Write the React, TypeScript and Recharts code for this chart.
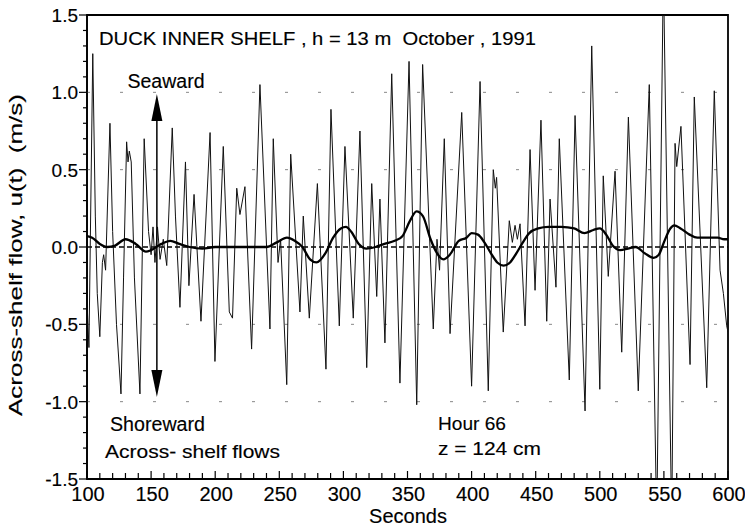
import { LineChart, Line, XAxis, YAxis, ReferenceLine, ReferenceArea } from "recharts";

// raw across-shelf velocity, read peak by peak off the figure
const rawSeconds = [
  100, 101.5, 104.5, 106.5, 108, 110, 112, 113, 114.5, 117.9, 120, 123, 126.5, 128.5, 130.9, 132, 133, 134.5,
  137, 141.3, 144.6, 148, 150, 151.5, 153, 155, 157, 159.5, 162.2, 166.5, 169, 172.5, 176.8, 179.5, 183.5,
  188.9, 196, 199.8, 206.3, 211, 213.5, 216.8, 219.3, 223.2, 228.4, 234.9, 242.7, 245.3, 249, 251, 255.8,
  258.9, 266.1, 268.7, 273.4, 279.7, 286.4, 290.3, 296.8, 301.2, 307.7, 312.9, 318.2, 322.1, 326, 328.5,
  332.4, 337.7, 344.1, 351.2, 357.2, 361.8, 370.1, 373, 375, 378.7, 383.2, 392.3, 400, 406.6, 413, 416.9,
  418.5, 419.5, 424.7, 429.4, 431.8, 433.9, 435.7, 437.8, 441.7, 445.6, 449.5, 454.1, 458.6, 461.2, 465.8,
  468.4, 476.2, 480.7, 488.5, 493.7, 500, 502.7, 506.6, 511.9, 517.1, 522.3, 530, 538.6, 544.4, 549.6,
  556.1, 558.7, 560, 563.3, 570.4, 573.7, 583.4, 589.3, 593.8, 596.4, 599, 600,
];
const rawFlow = [
  -0.35, -0.65, 1.25, 0.2, -0.3, -0.58, -0.1, -0.05, -0.15, 0.8, 0.1, -0.5, -0.95, -0.2, 0.68, 0.55, 0.62, 0.55,
  -0.2, -0.95, 0.7, 0.1, -0.05, 0.13, -0.1, 0.13, -0.08, 0.05, -0.12, 0.77, 0.2, -0.39, 0.55, -0.25, 0.34,
  -0.48, 0.74, -0.74, 0.65, -0.42, -0.46, 0.38, 0.21, 0.39, -0.66, 1.05, -0.53, 0.7, -0.1, 0.05, -0.89,
  0.6, -0.42, 0.2, -0.46, 0.41, -0.79, 0.89, -0.51, 0.65, -0.46, 0.75, -0.78, 0.41, -0.32, 0.31,
  -0.62, 1.12, -0.88, 1.2, -1.02, 1.18, -0.53, 0.05, -0.15, 0.7, -0.56, 0.87, -0.9, 1.07, -0.93, 0.5,
  0.38, 0.45, -0.55, 0.17, 0.03, 0.14, 0.05, 0.15, -0.51, 0.63, -0.28, 0.82, -0.48, 0.31, -0.26,
  0.7, -0.86, 0.85, -1.06, 1.3, -0.92, 0.46, -0.19, 0.49, -0.68, 0.84, -0.93, 1.05, -1.8, 1.8,
  -1.8, 0.67, 0.52, 0.78, -0.76, 0.97, -0.91, 1.01, -0.15, -0.3, -0.51, -0.55,
];

// low-passed (mean) flow
const smoothSeconds = [
  100, 104, 110, 116, 122, 130, 138, 146, 150, 158, 165, 172, 180, 190, 200, 210, 220, 230, 240, 248, 256,
  262, 268, 274, 279, 286, 292, 298, 302, 306, 312, 318, 325, 332, 340, 346, 352, 357, 362, 368, 373, 378,
  383, 390, 396, 400, 405, 410, 415, 420, 425, 430, 435, 440, 445, 452, 460, 470, 480, 488, 495, 500, 505,
  510, 516, 522, 528, 535, 542, 546, 550, 555, 558, 563, 570, 576, 585, 592, 597, 600,
];
const smoothFlow = [
  0.07, 0.06, 0.02, 0.0, 0.01, 0.05, 0.02, -0.03, -0.02, 0.02, 0.04, 0.02, 0.0, -0.01, 0.0, 0.0, 0.0, 0.0, 0.0, 0.03, 0.06,
  0.04, 0.0, -0.08, -0.1, -0.04, 0.06, 0.12, 0.13, 0.1, 0.02, -0.01, 0.0, 0.02, 0.04, 0.07, 0.17, 0.23, 0.2, 0.05, -0.04, -0.08,
  -0.05, 0.04, 0.06, 0.09, 0.08, 0.03, -0.04, -0.1, -0.12, -0.1, -0.04, 0.03, 0.09, 0.12, 0.13, 0.13, 0.12, 0.09, 0.11, 0.12, 0.08,
  0.01, -0.02, -0.01, 0.0, -0.04, -0.07, -0.05, 0.03, 0.12, 0.14, 0.12, 0.08, 0.06, 0.06, 0.06, 0.05, 0.05,
];

const xTicks = [
  100, 110, 120, 130, 140, 150, 160, 170, 180, 190, 200, 210, 220, 230, 240, 250, 260, 270, 280, 290, 300,
  310, 320, 330, 340, 350, 360, 370, 380, 390, 400, 410, 420, 430, 440, 450, 460, 470, 480, 490, 500,
  510, 520, 530, 540, 550, 560, 570, 580, 590, 600,
];
const yTicks = [
  -1.5, -1.4, -1.3, -1.2, -1.1, -1.0, -0.9, -0.8, -0.7, -0.6, -0.5, -0.4, -0.3, -0.2, -0.1, 0,
  0.1, 0.2, 0.3, 0.4, 0.5, 0.6, 0.7, 0.8, 0.9, 1.0, 1.1, 1.2, 1.3, 1.4, 1.5,
];
const gridLevels = [-1.0, -0.5, 0.5, 1.0];

const rawData = rawSeconds.map((t, i) => ({ t, u: rawFlow[i] }));
const smoothData = smoothSeconds.map((t, i) => ({ t, u: smoothFlow[i] }));

const FONT = "'Liberation Sans', Arial, Helvetica, sans-serif";
const INK = { fill: "#000", stroke: "#000", strokeWidth: 0.15 };

function XTick({ x, y, payload }: any) {
  const v = payload.value;
  const major = v % 50 === 0;
  return (
    <g>
      <line x1={x} x2={x} y1={y} y2={y - (major ? 8 : 6)} stroke="#000" strokeWidth={1.2} />
      {major && (
        <text x={x + 1} y={y + 22} textAnchor="middle" fontSize={20} fontFamily={FONT} {...INK}>
          {v}
        </text>
      )}
    </g>
  );
}

function YTick({ x, y, payload }: any) {
  const v = payload.value;
  const major = Math.abs(Math.round(v * 10) % 5) === 0;
  return (
    <g>
      <line x1={x} x2={x - (major ? 8 : 4)} y1={y} y2={y} stroke="#000" strokeWidth={1.2} />
      {major && (
        <text x={x - 9} y={y + 7} textAnchor="end" fontSize={19} fontFamily={FONT} {...INK}>
          {v.toFixed(1)}
        </text>
      )}
    </g>
  );
}

function ArrowShape(props: any) {
  const { x1, y1, y2 } = props;
  const top = Math.min(y1, y2);
  const bottom = Math.max(y1, y2);
  const x = x1;
  return (
    <g>
      <line x1={x} x2={x} y1={top + 20} y2={bottom - 20} stroke="#000" strokeWidth={1.5} />
      <polygon points={`${x},${top} ${x - 5.5},${top + 27} ${x + 5.5},${top + 27}`} fill="#000" />
      <polygon points={`${x},${bottom} ${x - 5.5},${bottom - 27} ${x + 5.5},${bottom - 27}`} fill="#000" />
    </g>
  );
}

export default function App() {
  return (
    <div style={{ position: "relative", width: 745, height: 528, background: "#fff" }}>
      <style>{`body{margin:0}`}</style>
      <LineChart width={745} height={528} margin={{ top: 15, right: 17, left: 0, bottom: 0 }}>
        <XAxis
          type="number"
          dataKey="t"
          domain={[100, 600]}
          ticks={xTicks}
          allowDataOverflow
          height={49}
          tickSize={0}
          tickMargin={0}
          axisLine={{ stroke: "#000", strokeWidth: 1.5 }}
          tick={<XTick />}
          interval={0}
        />
        <YAxis
          type="number"
          domain={[-1.5, 1.5]}
          ticks={yTicks}
          allowDataOverflow
          width={87}
          tickSize={0}
          tickMargin={0}
          axisLine={{ stroke: "#000", strokeWidth: 1.5 }}
          tick={<YTick />}
          interval={0}
        />
        <ReferenceArea x1={100} x2={600} y1={-1.5} y2={1.5} fill="none" stroke="#000" strokeWidth={1.8} />
        {gridLevels.map((g) => (
          <ReferenceLine key={g} y={g} stroke="#888" strokeWidth={1} strokeDasharray="3 30" />
        ))}
        <ReferenceLine y={0} stroke="#000" strokeWidth={1.3} strokeDasharray="5 3" />
        <Line
          data={rawData}
          dataKey="u"
          type="linear"
          stroke="#111"
          strokeWidth={1}
          dot={false}
          isAnimationActive={false}
        />
        <Line
          data={smoothData}
          dataKey="u"
          type="monotone"
          stroke="#000"
          strokeWidth={2.3}
          dot={false}
          isAnimationActive={false}
        />
        <ReferenceLine
          segment={[
            { x: 154.5, y: 0.99 },
            { x: 154.5, y: -0.97 },
          ]}
          ifOverflow="visible"
          shape={<ArrowShape />}
        />
      </LineChart>
      <svg width={745} height={528} style={{ position: "absolute", left: 0, top: 0, pointerEvents: "none" }}>
        <g fontFamily={FONT} {...INK}>
          <text x={99} y={45} fontSize={18} textLength={437} lengthAdjust="spacingAndGlyphs">
            {"DUCK INNER SHELF , h = 13 m\u00a0\u00a0October , 1991"}
          </text>
          <text x={166} y={88} fontSize={19.5} textAnchor="middle">Seaward</text>
          <text x={110} y={431} fontSize={19.5} textLength={95} lengthAdjust="spacingAndGlyphs">Shoreward</text>
          <text x={105} y={458} fontSize={19} textLength={175} lengthAdjust="spacingAndGlyphs">Across- shelf flows</text>
          <text x={438} y={430} fontSize={19} textLength={68} lengthAdjust="spacingAndGlyphs">Hour 66</text>
          <text x={438} y={455} fontSize={19} textLength={103} lengthAdjust="spacingAndGlyphs">z = 124 cm</text>
          <text x={408} y={523} fontSize={20} textAnchor="middle">Seconds</text>
          <text
            x={22}
            y={255}
            fontSize={18.5}
            textAnchor="middle"
            textLength={322}
            lengthAdjust="spacingAndGlyphs"
            transform="rotate(-90 22 255)"
          >
            {"Across-shelf flow, u(t)\u00a0\u00a0(m/s)"}
          </text>
        </g>
      </svg>
    </div>
  );
}
